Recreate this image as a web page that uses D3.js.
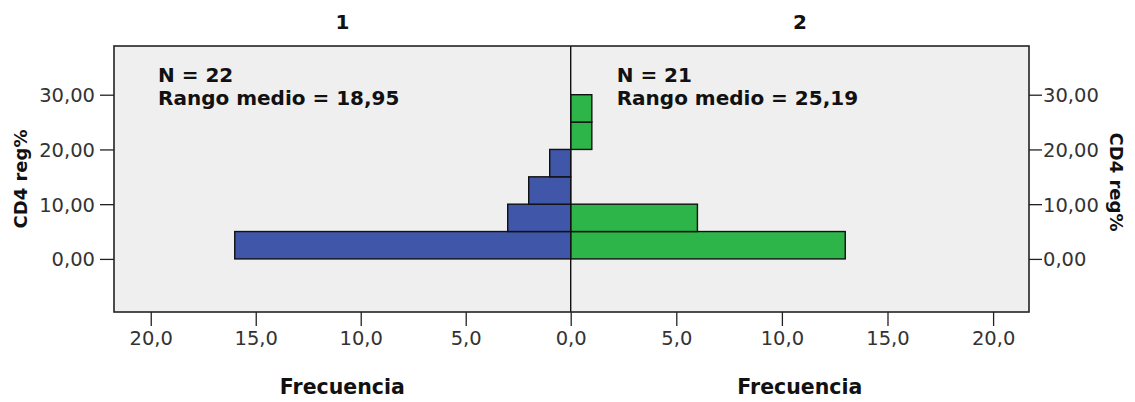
<!DOCTYPE html>
<html>
<head>
<meta charset="utf-8">
<script src="https://cdn.jsdelivr.net/npm/d3@7"></script>
<style>
  html, body { margin: 0; padding: 0; background: #ffffff; }
  svg { display: block; }
  text { font-family: "DejaVu Sans", Verdana, sans-serif; }
</style>
</head>
<body>
<svg id="chart" width="1135" height="402"></svg>
<script>
// Histogram bins of CD4 reg% (lower edge of each 5-unit bin)
const binStarts = [0, 5, 10, 15, 20, 25];
const binWidth = 5;
// Frequencies per bin for each group
const group1Counts = [16, 3, 2, 1, 0, 0];
const group2Counts = [13, 6, 0, 0, 1, 1];
const groupTitles = ["1", "2"];
const groupN = [22, 21];
const groupMeanRank = ["18,95", "25,19"];
const yTicks = [0, 10, 20, 30];
const xTicks = [0, 5, 10, 15, 20];
const yTitle = "CD4 reg%";
const xTitle = "Frecuencia";

const svg = d3.select("#chart");

const frame = { left: 114, right: 1029, top: 46, bottom: 312 };
const center = 570.7;

const y = d3.scaleLinear().domain([-9.7, 38.9]).range([frame.bottom, frame.top]);
const xLeft = d3.scaleLinear().domain([0, 21.75]).range([center, frame.left]);
const xRight = d3.scaleLinear().domain([0, 21.7]).range([center, frame.right]);

const fmtY = v => d3.format(".2f")(v).replace(".", ",");
const fmtX = v => d3.format(".1f")(v).replace(".", ",");

// plot background
svg.append("rect")
  .attr("x", frame.left).attr("y", frame.top)
  .attr("width", frame.right - frame.left).attr("height", frame.bottom - frame.top)
  .attr("fill", "#efefef");

const bins1 = binStarts.map((b, i) => ({ lo: b, count: group1Counts[i] })).filter(d => d.count > 0);
const bins2 = binStarts.map((b, i) => ({ lo: b, count: group2Counts[i] })).filter(d => d.count > 0);

// left (group 1) bars
svg.append("g").selectAll("rect").data(bins1).join("rect")
  .attr("x", d => xLeft(d.count))
  .attr("y", d => y(d.lo + binWidth))
  .attr("width", d => center - xLeft(d.count))
  .attr("height", d => y(d.lo) - y(d.lo + binWidth))
  .attr("fill", "#3f56a9")
  .attr("stroke", "#111")
  .attr("stroke-width", 1.4);

// right (group 2) bars
svg.append("g").selectAll("rect").data(bins2).join("rect")
  .attr("x", center)
  .attr("y", d => y(d.lo + binWidth))
  .attr("width", d => xRight(d.count) - center)
  .attr("height", d => y(d.lo) - y(d.lo + binWidth))
  .attr("fill", "#2db549")
  .attr("stroke", "#111")
  .attr("stroke-width", 1.4);

// central divider
svg.append("line")
  .attr("x1", center).attr("x2", center)
  .attr("y1", frame.top).attr("y2", frame.bottom)
  .attr("stroke", "#111").attr("stroke-width", 1.4);

// frame
svg.append("rect")
  .attr("x", frame.left).attr("y", frame.top)
  .attr("width", frame.right - frame.left).attr("height", frame.bottom - frame.top)
  .attr("fill", "none").attr("stroke", "#222").attr("stroke-width", 1.6);

// axes
function styleAxis(g) {
  g.select(".domain").remove();
  g.selectAll(".tick line").attr("stroke", "#222").attr("stroke-width", 1.3);
  g.selectAll(".tick text")
    .attr("fill", "#333")
    .style("font-size", "19.5px")
    .style("font-family", "'DejaVu Sans', sans-serif");
}

svg.append("g")
  .attr("transform", `translate(${frame.left},0)`)
  .call(d3.axisLeft(y).tickValues(yTicks).tickFormat(fmtY).tickSize(14).tickPadding(5))
  .call(styleAxis)
  .selectAll(".tick text").attr("dy", "0.36em");

svg.append("g")
  .attr("transform", `translate(${frame.right},0)`)
  .call(d3.axisRight(y).tickValues(yTicks).tickFormat(fmtY).tickSize(13).tickPadding(1))
  .call(styleAxis)
  .selectAll(".tick text").attr("dy", "0.36em");

svg.append("g")
  .attr("transform", `translate(0,${frame.bottom})`)
  .call(d3.axisBottom(xLeft).tickValues(xTicks).tickFormat(fmtX).tickSize(14).tickPadding(5))
  .call(styleAxis);

svg.append("g")
  .attr("transform", `translate(0,${frame.bottom})`)
  .call(d3.axisBottom(xRight).tickValues(xTicks.filter(v => v > 0)).tickFormat(fmtX).tickSize(14).tickPadding(5))
  .call(styleAxis);

// panel titles and frequency axis titles
const halfCenters = [(frame.left + center) / 2, (center + frame.right) / 2];
groupTitles.forEach((t, i) => {
  svg.append("text")
    .attr("x", halfCenters[i]).attr("y", 29)
    .attr("text-anchor", "middle")
    .style("font-size", "20px").style("font-weight", "bold")
    .attr("fill", "#111")
    .text(t);

  svg.append("text")
    .attr("x", halfCenters[i]).attr("y", 394)
    .attr("text-anchor", "middle")
    .style("font-size", "20.5px").style("font-weight", "bold")
    .attr("fill", "#111")
    .text(xTitle);
});

// group statistics
const statX = [frame.left + 44, center + 46];
groupN.forEach((n, i) => {
  const t = svg.append("text")
    .attr("x", statX[i]).attr("y", 82)
    .style("font-size", "20px").style("font-weight", "bold")
    .attr("fill", "#111");
  t.append("tspan").attr("x", statX[i]).text(`N = ${n}`);
  t.append("tspan").attr("x", statX[i]).attr("y", 105).text(`Rango medio = ${groupMeanRank[i]}`);
});

// vertical axis titles
const yMid = 179;
svg.append("text")
  .attr("transform", `translate(27,${yMid}) rotate(-90)`)
  .attr("text-anchor", "middle")
  .style("font-size", "18px").style("font-weight", "bold")
  .attr("fill", "#111")
  .text(yTitle);

svg.append("text")
  .attr("transform", `translate(1110,${yMid + 3}) rotate(90)`)
  .attr("text-anchor", "middle")
  .style("font-size", "18px").style("font-weight", "bold")
  .attr("fill", "#111")
  .text(yTitle);
</script>
</body>
</html>
